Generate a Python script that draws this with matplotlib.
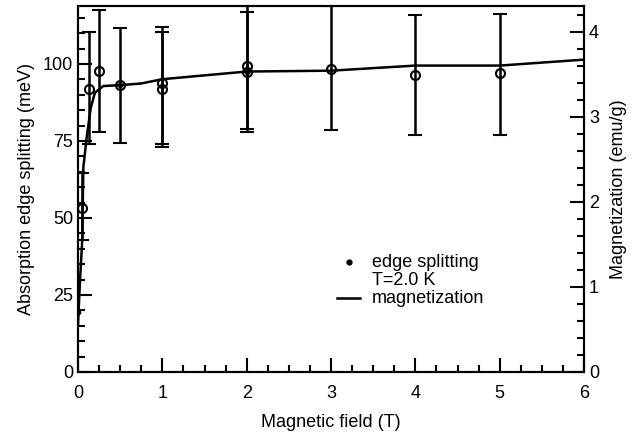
import matplotlib
matplotlib.use("Agg")
import matplotlib.pyplot as plt
from matplotlib.ticker import MultipleLocator

plt.rcParams['font.family'] = ['Liberation Sans', 'DejaVu Sans']
plt.rcParams['font.size'] = 13

# edge splitting, open circles with error bars (meV)
field = [0.05, 0.125, 0.25, 0.5, 1.0, 1.0, 2.0, 2.0, 3.0, 4.0, 5.0]
split = [53.2, 92.0, 97.8, 93.0, 93.8, 91.8, 99.4, 97.5, 98.4, 96.4, 97.0]
err_hi = [64.5, 110.5, 117.5, 111.7, 112.0, 110.5, 117.0, 118.7, 118.7, 116.0, 116.2]
err_lo = [43.0, 74.0, 78.0, 74.2, 74.0, 73.0, 79.0, 78.0, 78.6, 77.0, 77.0]

# small filled points
field_f = [0.0, 0.5, 2.0]
split_f = [19.6, 93.0, 97.5]

# magnetization curve (emu/g)
mag_field = [0.0, 0.02, 0.05, 0.063, 0.1, 0.15, 0.2, 0.3, 0.5, 0.75, 1.0, 2.0, 3.0, 4.0, 5.0, 6.0]
mag = [0.55, 1.0, 1.55, 2.4, 2.73, 3.1, 3.28, 3.36, 3.37, 3.39, 3.44, 3.53, 3.54, 3.60, 3.60, 3.67]

fig = plt.figure(figsize=(6.33, 4.34), dpi=100)
ax = fig.add_axes([78 / 633, 62 / 434, 506 / 633, 366 / 434])
ax2 = ax.twinx()

lo = [s - l for s, l in zip(split, err_lo)]
hi = [h - s for s, h in zip(split, err_hi)]
ax.errorbar(field, split, yerr=[lo, hi], fmt='o', mfc='none', mec='black',
            ms=6.5, mew=1.5, ecolor='black', elinewidth=1.8, capsize=5, capthick=1.8)
ax.plot(field_f, split_f, 'o', color='black', ms=3)

ax2.plot(mag_field, mag, color='black', lw=1.8)

ax.set_xlim(0, 6)
ax.set_ylim(0, 118.8)
ax2.set_ylim(0, 4.3)

ax.xaxis.set_major_locator(MultipleLocator(1))
ax.xaxis.set_minor_locator(MultipleLocator(0.25))
ax.yaxis.set_major_locator(MultipleLocator(25))
ax.yaxis.set_minor_locator(MultipleLocator(5))
ax2.yaxis.set_major_locator(MultipleLocator(1))
ax2.yaxis.set_minor_locator(MultipleLocator(0.2))

ax.tick_params(axis='both', which='major', direction='in', length=10, width=1.5, top=False)
ax.tick_params(axis='both', which='minor', direction='in', length=5, width=1.5, top=False)
ax2.tick_params(axis='y', which='major', direction='in', length=10, width=1.5)
ax2.tick_params(axis='y', which='minor', direction='in', length=5, width=1.5)
ax.tick_params(axis='x', pad=9)

for a in (ax, ax2):
    for s in a.spines.values():
        s.set_linewidth(1.5)

ax.set_xlabel('Magnetic field (T)', labelpad=9)
ax.set_ylabel('Absorption edge splitting (meV)', labelpad=6)
ax2.set_ylabel('Magnetization (emu/g)', labelpad=8)

# legend
ax.plot([0.536], [0.30], 'o', color='black', ms=3.5, transform=ax.transAxes)
ax.text(0.581, 0.30, 'edge splitting', transform=ax.transAxes, va='center')
ax.text(0.581, 0.251, 'T=2.0 K', transform=ax.transAxes, va='center')
ax.plot([0.512, 0.557], [0.202, 0.202], color='black', lw=1.8, transform=ax.transAxes)
ax.text(0.581, 0.202, 'magnetization', transform=ax.transAxes, va='center')

fig.savefig('out.png', dpi=100)
